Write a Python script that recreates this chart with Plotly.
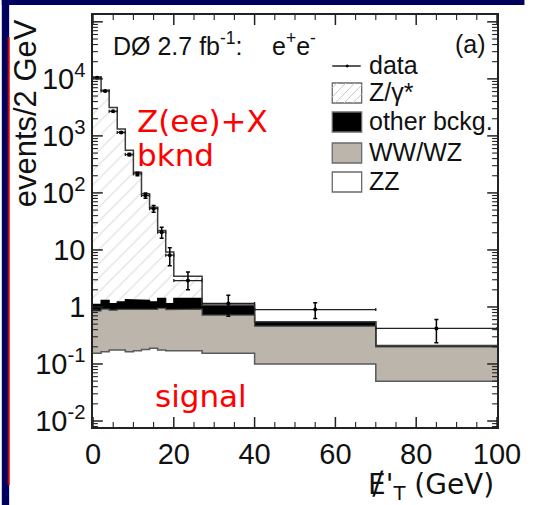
import numpy as np
import plotly.graph_objects as go

# ---------------- data ----------------
edges = [0, 2, 4, 6, 8, 10, 12, 14, 16, 18, 20, 27, 40, 70, 100]
zz = [0.154, 0.164, 0.176, 0.176, 0.164, 0.170, 0.180, 0.188, 0.176, 0.170, 0.170, 0.154, 0.100, 0.050]
ww_wz = [0.696, 0.756, 0.704, 0.734, 0.756, 0.750, 0.730, 0.722, 0.774, 0.730, 0.750, 0.566, 0.360, 0.150]
other_bckg = [0.26, 0.39, 0.27, 0.32, 0.43, 0.43, 0.40, 0.32, 0.46, 0.25, 0.49, 0.35, 0.09, 0.01]
z_gamma = [10799, 6299, 3149, 1319, 559, 229, 95, 55, 20.6, 8.05, 2.04, 0.0, 0.0, 0.0]
data_vals = [10500, 6100, 2700, 1150, 470, 215, 90, 53, 20.5, 8.1, 2.9, 1.15, 0.90, 0.42]
data_err_plus = [102, 78, 52, 34, 22, 15, 9.5, 7.3, 4.5, 2.8, 1.2, 0.46, 0.28, 0.18]
data_err_minus = [102, 78, 52, 34, 22, 15, 9.5, 7.3, 4.5, 2.8, 0.9, 0.46, 0.27, 0.185]

y_tickvals = [1e-2, 1e-1, 1, 10, 100, 1e3, 1e4]
y_ticktext = ["10<sup>-2</sup>", "10<sup>-1</sup>", "1", "10", "10<sup>2</sup>", "10<sup>3</sup>", "10<sup>4</sup>"]
x_tickvals = [0, 20, 40, 60, 80, 100]
x_ticktext = ["0", "20", "40", "60", "80", "100"]

legend_labels = ["data", "Z/γ*", "other bckg.", "WW/WZ", "ZZ"]

# ---------------- layout geometry ----------------
W, H = 533, 505
L, R, T, B = 93, 505, 15, 427
YLO, YHI = -2.105, 5.12
XLO, XHI = 0, 100


def px(x):
    return (x - L) / (R - L)


def py(y):
    return (B - y) / (B - T)


e = np.array(edges, dtype=float)
centers = (e[:-1] + e[1:]) / 2
halfw = (e[1:] - e[:-1]) / 2


def steps(vals):
    xs = np.repeat(e, 2)[1:-1]
    ys = np.repeat(np.asarray(vals, dtype=float), 2)
    return xs, ys


c1 = np.array(zz)
c2 = c1 + np.array(ww_wz)
c3 = c2 + np.array(other_bckg)
c4 = c3 + np.array(z_gamma)

fig = go.Figure()
x1, y1 = steps(c1)
fig.add_trace(go.Scatter(x=x1, y=y1, mode="lines", line=dict(color="#5a5a5a", width=1.5), showlegend=False))
x2, y2 = steps(c2)
fig.add_trace(go.Scatter(x=x2, y=y2, mode="lines", fill="tonexty", fillcolor="#bcb5ac",
                         line=dict(color="#4a4a4a", width=1.2), showlegend=False))
x3, y3 = steps(c3)
fig.add_trace(go.Scatter(x=x3, y=y3, mode="lines", fill="tonexty", fillcolor="#000000",
                         line=dict(color="#000000", width=1.2), showlegend=False))
x4, y4 = steps(c4)
fig.add_trace(go.Scatter(x=x4, y=y4, mode="lines", fill="tonexty", fillcolor="white",
                         fillpattern=dict(shape="/", fgcolor="#c4c4c4", bgcolor="white", size=10, solidity=0.12),
                         line=dict(color="#3c3c3c", width=1.5), showlegend=False))

fig.add_trace(go.Scatter(
    x=centers, y=data_vals, mode="markers",
    marker=dict(color="black", size=4),
    error_y=dict(type="data", symmetric=False, array=data_err_plus, arrayminus=data_err_minus,
                 color="black", thickness=1.5, width=2),
    error_x=dict(type="data", array=halfw, color="#222222", thickness=1.3, width=1.5),
    showlegend=False))

axis_col = "#222222"


# inside tick marks on all four sides (axis decoration)
def tick_traces():
    out = []
    ylen_major = 10 / (B - T) * (YHI - YLO)
    ylen_minor = 5 / (B - T) * (YHI - YLO)
    xlen_major = 10 / (R - L) * (XHI - XLO)
    xlen_minor = 5 / (R - L) * (XHI - XLO)
    for major in (True, False):
        tx, ty = [], []
        for xv in range(0, 101, 5):
            if (xv % 20 == 0) != major:
                continue
            ln = ylen_major if major else ylen_minor
            tx += [xv, xv, None, xv, xv, None]
            ty += [10 ** YLO, 10 ** (YLO + ln), None, 10 ** YHI, 10 ** (YHI - ln), None]
        for n in range(-3, 6):
            for k in range(1, 10):
                v = k * 10.0 ** n
                if not (10 ** YLO < v < 10 ** YHI):
                    continue
                if (k == 1) != major:
                    continue
                ln = xlen_major if major else xlen_minor
                tx += [XLO, XLO + ln, None, XHI, XHI - ln, None]
                ty += [v, v, None, v, v, None]
        out.append(go.Scatter(x=tx, y=ty, mode="lines", hoverinfo="skip", showlegend=False,
                              line=dict(color=axis_col, width=1.5 if major else 1.1)))
    return out


for tr in tick_traces():
    fig.add_trace(tr)

shapes = []
annotations = []

# frame decoration (navy border strips and red line)
navy = "#00005e"
shapes.append(dict(type="rect", xref="paper", yref="paper", x0=px(0), x1=px(7.5), y0=py(H), y1=py(0),
                   fillcolor=navy, line=dict(width=0), layer="above"))
shapes.append(dict(type="rect", xref="paper", yref="paper", x0=px(0), x1=px(W), y0=py(5), y1=py(0),
                   fillcolor=navy, line=dict(width=0), layer="above"))
shapes.append(dict(type="line", xref="paper", yref="paper", x0=px(7), x1=px(7), y0=py(37), y1=py(485),
                   line=dict(color="#d40000", width=2), layer="above"))

# custom legend
bx0, bx1 = 337, 367
item_y = [66, 93, 122, 153, 182]
font_main = "Liberation Sans, Arial, Helvetica, sans-serif"
shapes.append(dict(type="line", xref="paper", yref="paper", x0=px(bx0), x1=px(bx1 - 1), y0=py(item_y[0]),
                   y1=py(item_y[0]), line=dict(color="black", width=1.3)))
shapes.append(dict(type="circle", xref="paper", yref="paper", x0=px(351), x1=px(353.5), y0=py(item_y[0] - 1.2),
                   y1=py(item_y[0] + 1.2), fillcolor="black", line=dict(color="black", width=0.5)))
box_fills = [None, "white", "black", "#bcb5ac", "white"]
for i in range(1, 5):
    yc = item_y[i]
    y_top, y_bot = yc - 10, yc + 10
    shapes.append(dict(type="rect", xref="paper", yref="paper", x0=px(bx0), x1=px(bx1), y0=py(y_bot), y1=py(y_top),
                       fillcolor=box_fills[i], line=dict(color="#6a6a6a", width=1.3)))
    if i == 1:
        wbox, hbox = bx1 - bx0, y_bot - y_top
        for d in range(-15, 30, 9):
            v0, v1 = max(0, -d), min(hbox, wbox - d)
            if v1 > v0:
                shapes.append(dict(type="line", xref="paper", yref="paper",
                                   x0=px(bx0 + v0 + d), y0=py(y_bot - v0),
                                   x1=px(bx0 + v1 + d), y1=py(y_bot - v1),
                                   line=dict(color="#c8c8c8", width=1)))
for i, lab in enumerate(legend_labels):
    annotations.append(dict(text=lab, xref="paper", yref="paper", x=px(372), y=py(item_y[i] - 1),
                            xanchor="left", yanchor="middle", showarrow=False,
                            font=dict(family=font_main, size=25, color="#111111")))

# header texts
annotations.append(dict(text="DØ 2.7 fb<sup>-1</sup>:", xref="paper", yref="paper", x=px(111), y=py(44),
                        xanchor="left", yanchor="middle", showarrow=False,
                        font=dict(family=font_main, size=25, color="#111111")))
annotations.append(dict(text="e<sup>+</sup>e<sup>-</sup>", xref="paper", yref="paper", x=px(274), y=py(44),
                        xanchor="left", yanchor="middle", showarrow=False,
                        font=dict(family=font_main, size=25, color="#111111")))
annotations.append(dict(text="(a)", xref="paper", yref="paper", x=px(496), y=py(44),
                        xanchor="right", yanchor="middle", showarrow=False,
                        font=dict(family=font_main, size=25, color="#111111")))

# red overlay labels
red_font = dict(family="DejaVu Sans, Verdana, sans-serif", size=31, color="#ff0000")
annotations.append(dict(text="Z(ee)+X", xref="paper", yref="paper", x=px(136), y=py(121),
                        xanchor="left", yanchor="middle", showarrow=False, font=red_font))
annotations.append(dict(text="bknd", xref="paper", yref="paper", x=px(136), y=py(155),
                        xanchor="left", yanchor="middle", showarrow=False, font=red_font))
annotations.append(dict(text="signal", xref="paper", yref="paper", x=px(154), y=py(396),
                        xanchor="left", yanchor="middle", showarrow=False, font=red_font))

# axis titles
annotations.append(dict(text="events/2 GeV", xref="paper", yref="paper", x=px(24), y=py(113),
                        xanchor="center", yanchor="middle", textangle=-90, showarrow=False,
                        font=dict(family=font_main, size=31, color="#111111")))
annotations.append(dict(text="Ɇ'<sub>T</sub> (GeV)", xref="paper", yref="paper", x=px(504), y=py(486),
                        xanchor="right", yanchor="middle", showarrow=False,
                        font=dict(family="DejaVu Sans, Liberation Sans, sans-serif", size=28, color="#111111")))

fig.update_layout(
    width=W, height=H,
    margin=dict(l=L, r=W - R, t=T, b=H - B, pad=0),
    paper_bgcolor="white", plot_bgcolor="white",
    showlegend=False,
    shapes=shapes, annotations=annotations,
    xaxis=dict(range=[XLO, XHI], tickmode="array", tickvals=x_tickvals, ticktext=x_ticktext,
               ticks="", showline=True, linecolor=axis_col, linewidth=1.5,
               mirror=True, showgrid=False, zeroline=False,
               tickfont=dict(family=font_main, size=29, color="#111111")),
    yaxis=dict(type="log", range=[YLO, YHI], tickmode="array", tickvals=y_tickvals, ticktext=y_ticktext,
               ticks="", showline=True, linecolor=axis_col, linewidth=1.5,
               mirror=True, showgrid=False, zeroline=False,
               tickfont=dict(family=font_main, size=29, color="#111111")),
)

fig.write_html("out.html")
